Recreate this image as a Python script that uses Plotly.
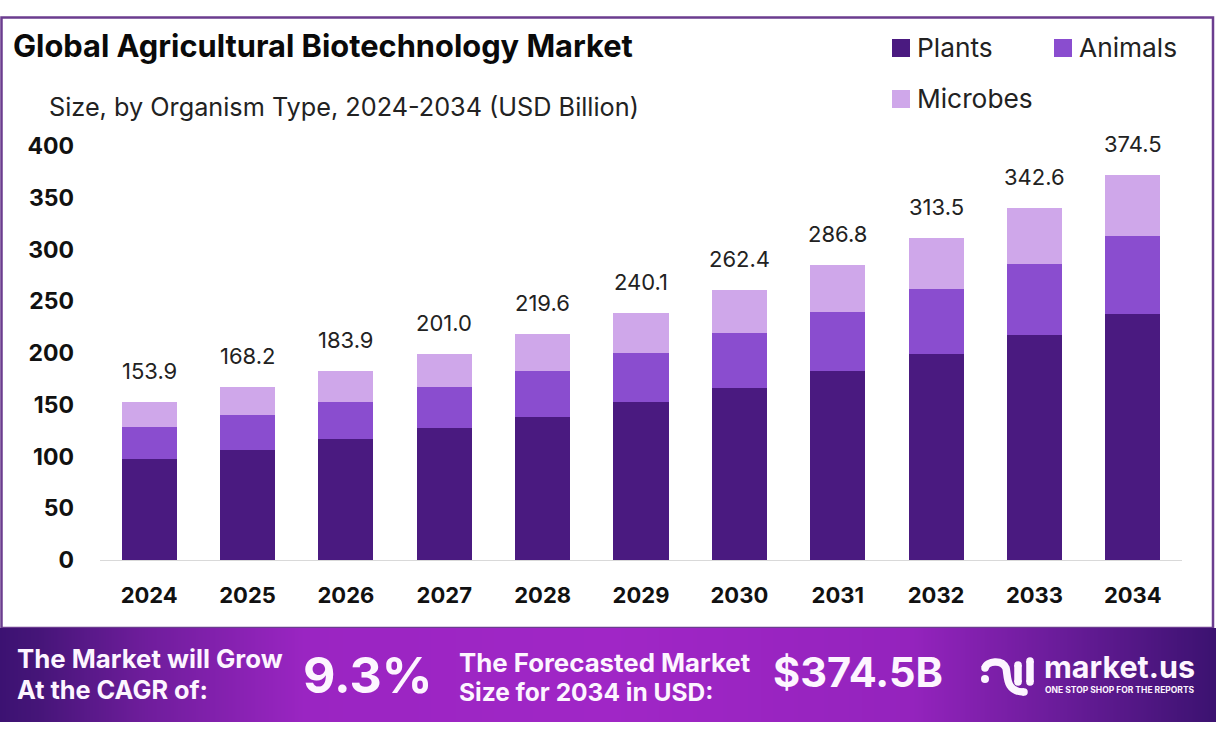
import numpy as np
import plotly.graph_objects as go

YEARS = ["2024","2025","2026","2027","2028","2029","2030","2031","2032","2033","2034"]
PLANTS = [97.6,106.3,116.9,127.5,138.2,152.7,166.2,182.6,199.0,217.4,237.7]
ANIMALS = [30.9,33.8,35.8,39.6,44.4,47.3,53.1,57.0,62.8,68.6,75.3]
MICROBES = [24.2,27.0,29.9,31.9,35.8,38.6,41.6,45.4,49.3,54.0,59.0]
TOTAL_LABELS = ["153.9","168.2","183.9","201.0","219.6","240.1","262.4","286.8","313.5","342.6","374.5"]
SERIES = ["Plants","Animals","Microbes"]
COLORS = ["#4a1a80","#8a4dcf","#cfa7ea"]
Y_TICKS = [0,50,100,150,200,250,300,350,400]

W, H = 1216, 739
FONT = "Inter"
def px(x): return x / W
def py(y): return 1 - y / H

fig = go.Figure()
for name, vals, col in zip(SERIES, [PLANTS, ANIMALS, MICROBES], COLORS):
    fig.add_trace(go.Bar(x=YEARS, y=vals, name=name, marker=dict(color=col, line=dict(width=0)),
                         width=0.56, showlegend=False))

# Banner gradient on its own hidden axes
stops = [[0,"#3c1272"],[0.03,"#451578"],[0.12,"#6f1d9c"],[0.25,"#9a25c2"],[0.5,"#a026c6"],
         [0.75,"#9423bd"],[0.87,"#6a1c9a"],[1,"#3b1270"]]
gx = np.linspace(0, 1, 300)
fig.add_trace(go.Heatmap(x=gx, y=[0,1], z=[gx, gx], colorscale=stops, showscale=False,
                         zsmooth="best", hoverinfo="skip", xaxis="x2", yaxis="y2"))

tops = [a+b+c for a,b,c in zip(PLANTS, ANIMALS, MICROBES)]
anns = []
for i, (top, lab) in enumerate(zip(tops, TOTAL_LABELS)):
    anns.append(dict(x=i, y=top, xref="x", yref="y", text=lab, showarrow=False, yshift=31,
                     font=dict(family=FONT, size=22, color="#222222"), xanchor="center", yanchor="middle"))

def label(x, y, text, size, bold=False, color="#111111", anchor="left"):
    anns.append(dict(x=px(x), y=py(y), xref="paper", yref="paper", text=f"<b>{text}</b>" if bold else text,
                     showarrow=False, xanchor=anchor, yanchor="middle",
                     font=dict(family=FONT, size=size, color=color), borderpad=0, borderwidth=0))

label(13, 46, "Global Agricultural Biotechnology Market", 30.8, True, "#0a0a0a")
label(49, 107, "Size, by Organism Type, 2024-2034 (USD Billion)", 25.25, False, "#222222")
WHITE = "#fdf5ff"
label(17, 658, "The Market will Grow", 25.8, True, WHITE)
label(17, 689, "At the CAGR of:", 25.3, True, WHITE)
label(303, 675, "9.3%", 50, True, WHITE)
label(459, 662, "The Forecasted Market", 25.8, True, WHITE)
label(459, 692, "Size for 2034 in USD:", 24.5, True, WHITE)
label(773, 672, "$374.5B", 41.5, True, WHITE)
label(1044, 666, "market.us", 30.5, True, WHITE)
label(1045, 689.5, "ONE STOP SHOP FOR THE REPORTS", 8.5, True, WHITE)

shapes = []
def rect(x0,y0,x1,y1,**kw):
    shapes.append(dict(type="rect", xref="paper", yref="paper", x0=px(x0), y0=py(y0), x1=px(x1), y1=py(y1), **kw))

# Frame
rect(1.5,17.5,1213,628, line=dict(color="#6b3d8f", width=2.5), fillcolor="rgba(0,0,0,0)", layer="below")

# Legend drawn as keys and text
legend_pos = [(892,48),(1054,48),(892,99)]
for (lx,ly), name, col in zip(legend_pos, SERIES, COLORS):
    rect(lx, ly-9, lx+18, ly+9, fillcolor=col, line=dict(width=0))
    label(lx+25, ly-1, name, 26.3, False, "#222222")

# Logo glyph
def dot(x, y, r):
    shapes.append(dict(type="circle", xref="paper", yref="paper", x0=px(x-r), x1=px(x+r), y0=py(y-r), y1=py(y+r),
                       fillcolor=WHITE, line=dict(width=0)))
def stroke(points, w=7.5):
    d = f"M {px(points[0][0])} {py(points[0][1])} " + " ".join(
        f"C {px(a[0])} {py(a[1])} {px(b[0])} {py(b[1])} {px(c[0])} {py(c[1])}" for a,b,c in
        [points[i:i+3] for i in range(1,len(points),3)])
    shapes.append(dict(type="path", xref="paper", yref="paper", path=d, line=dict(color=WHITE, width=w),
                       fillcolor="rgba(0,0,0,0)"))
    for p in (points[0], points[-1]):
        dot(p[0], p[1], w/2)
dot(985, 679, 4)
stroke([(985,668),(987,661),(1002,659),(1006,668),(1008,675),(1005,692),(1024,692)])
stroke([(1018,665),(1018,670),(1018,676),(1018,682)])
stroke([(1030,661),(1030,668),(1030,675),(1030,682)])

fig.update_layout(
    width=W, height=H, margin=dict(l=0,r=0,t=0,b=0), barmode="stack",
    paper_bgcolor="#ffffff", plot_bgcolor="rgba(0,0,0,0)", showlegend=False,
    annotations=anns, shapes=shapes, font=dict(family=FONT),
    xaxis=dict(domain=[px(100), px(1182)], type="category", range=[-0.5,10.5], showgrid=False, automargin=False,
               showline=True, linecolor="#d9d9d9", linewidth=1, ticks="", anchor="y",
               ticklabelstandoff=16, tickfont=dict(family=FONT, size=22, color="#111111", weight="bold")),
    yaxis=dict(domain=[py(560), py(146)], range=[0,400], tickvals=Y_TICKS, showgrid=False, zeroline=False, automargin=False,
               showline=False, ticks="", ticklabelstandoff=25, anchor="x",
               tickfont=dict(family=FONT, size=23, color="#111111", weight="bold")),
    xaxis2=dict(domain=[0,1], range=[0,1], visible=False, anchor="y2", automargin=False),
    yaxis2=dict(domain=[py(722), py(628)], range=[0,1], visible=False, anchor="x2", automargin=False),
)
fig.write_html("out.html", config={"displayModeBar": False}, post_script="document.body.style.margin='0';")
